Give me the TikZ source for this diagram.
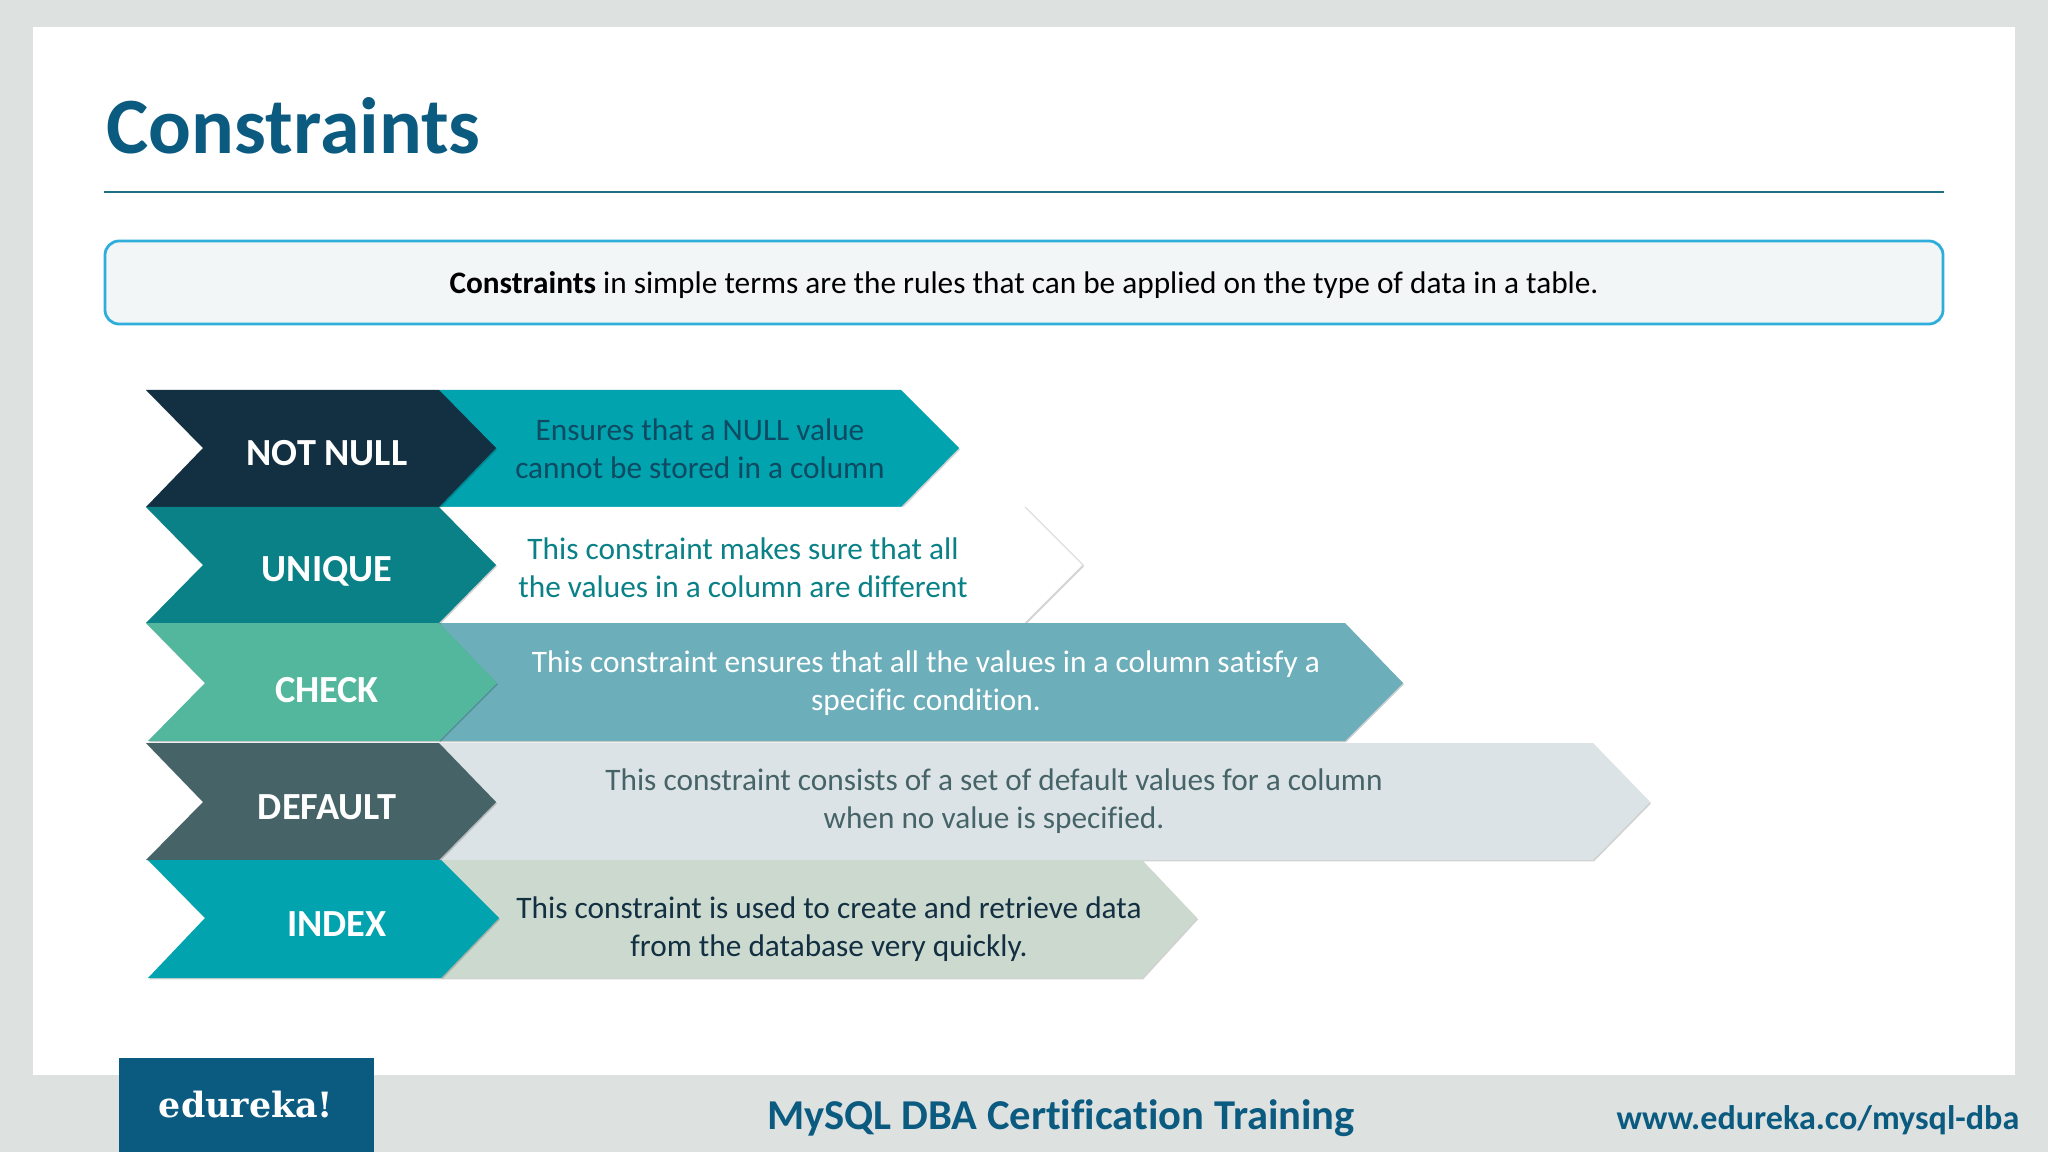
\documentclass[tikz,border=0pt]{standalone}
\usepackage{fontspec}
\setmainfont[Ligatures=NoCommon]{Carlito}
\newfontfamily\logofont{DejaVu Serif}
\usepackage{xcolor}
\usetikzlibrary{positioning,shadows}
\definecolor{pagegrey}{HTML}{DDE2E1}
\definecolor{titleblue}{HTML}{0B5A80}
\definecolor{ruleteal}{HTML}{1F6F80}
\definecolor{boxblue}{HTML}{2FAEDB}
\definecolor{boxfill}{HTML}{F3F6F7}
\definecolor{navy}{HTML}{132F42}
\definecolor{deepteal}{HTML}{0A8187}
\definecolor{mintgreen}{HTML}{52B79C}
\definecolor{slategrey}{HTML}{466467}
\definecolor{brightteal}{HTML}{00A3AE}
\definecolor{dullteal}{HTML}{6DAEBB}
\definecolor{palegrey}{HTML}{DCE3E6}
\definecolor{palegreen}{HTML}{CCD9CE}
\definecolor{deeptext}{HTML}{0F4A63}
\tikzset{
  tag/.style={drop shadow={shadow xshift=0.3pt,shadow yshift=-0.4pt,opacity=0.18,fill=black}},
  tagtext/.style={text=white,font=\fontsize{10.9}{13}\selectfont\bfseries,inner sep=0pt},
  desc/.style={align=center,inner sep=0pt,font=\fontsize{8.9}{10.8}\selectfont},
}
\begin{document}
\begin{tikzpicture}[x=0.01cm,y=-0.01cm]
  \useasboundingbox (0,0) rectangle (2048,1152);
  \fill[pagegrey] (0,0) rectangle (2048,1152);
  \fill[white] (33,27) rectangle (2015,1075);
  % header
  \node[anchor=base west,inner sep=0pt,text=titleblue,font=\fontsize{22.7}{26}\selectfont\bfseries] (title) at (106,154) {Constraints};
  \coordinate (ruleL) at (104,192);
  \coordinate (ruleR) at (1944,192);
  \draw[ruleteal,line width=0.5pt] (ruleL) -- (ruleR);
  \draw[boxblue,fill=boxfill,line width=0.8pt,rounded corners=4pt] (105,241) rectangle (1943,324);
  \node[desc,text=black] (intro) at (1024,285.5) {\textbf{Constraints} in simple terms are the rules that can be applied on the type of data in a table.};
  % right arrows
  \fill[tag,fill=brightteal] (439,390) -- (901,390) -- (959,448) -- (901,507) -- (439,507) -- cycle;
  \fill[tag,fill=white] (439,507) -- (1025,507) -- (1083,565) -- (1025,623) -- (439,623) -- cycle;
  \draw[black!15,line width=0.3pt] (1025,507) -- (1083,565) -- (1025,623);
  \fill[tag,fill=dullteal] (439,623) -- (1345,623) -- (1403,683) -- (1345,741) -- (439,741) -- cycle;
  \fill[tag,fill=palegrey] (439,743) -- (1593,743) -- (1650,802) -- (1593,860) -- (439,860) -- cycle;
  \fill[tag,fill=palegreen] (441,860) -- (1142,860) -- (1197,918) -- (1142,978) -- (441,978) -- cycle;
  % left chevrons
  \fill[tag,fill=navy] (146,390) -- (439,390) -- (496,448) -- (439,507) -- (146,507) -- (203,448) -- cycle;
  \fill[tag,fill=deepteal] (146,507) -- (439,507) -- (496,565) -- (439,623) -- (146,623) -- (203,565) -- cycle;
  \fill[tag,fill=mintgreen] (146,623) -- (439,623) -- (497,683) -- (439,741) -- (148,741) -- (205,683) -- cycle;
  \fill[tag,fill=slategrey] (146,743) -- (439,743) -- (496,802) -- (439,860) -- (146,860) -- (203,802) -- cycle;
  \fill[tag,fill=brightteal] (148,860) -- (441,860) -- (499,918) -- (441,978) -- (148,978) -- (205,918) -- cycle;
  % labels
  \node[tagtext] (notnull) at (327,453) {NOT NULL};
  \node[tagtext] (unique) at (327,571) {UNIQUE};
  \node[tagtext] (check) at (327,690) {CHECK};
  \node[tagtext] (default) at (327,807) {DEFAULT};
  \node[tagtext] (index) at (337,924) {INDEX};
  \node[desc,text=deeptext] (notnulltext) at (700,449) {Ensures that a NULL value\\cannot be stored in a column};
  \node[desc,text=deepteal] (uniquetext) at (743,568) {This constraint makes sure that all\\the values in a column are different};
  \node[desc,text=white] (checktext) at (926,683.5) {This constraint ensures that all the values in a column satisfy a\\specific condition.};
  \node[desc,text=slategrey] (defaulttext) at (994,801.5) {This constraint consists of a set of default values for a column\\when no value is specified.};
  \node[desc,text=navy] (indextext) at (829,929.5) {This constraint is used to create and retrieve data\\from the database very quickly.};
  % footer
  \fill[titleblue] (119,1058) rectangle (374,1152);
  \node[anchor=base,inner sep=0pt,text=white,font=\logofont\fontsize{9.9}{12}\selectfont\bfseries] (logo) at (246,1117) {edureka!};
  \node[anchor=base,inner sep=0pt,text=titleblue,font=\fontsize{12.1}{14}\selectfont\bfseries] (course) at (1061,1129) {MySQL DBA Certification Training};
  \node[anchor=base east,inner sep=0pt,text=titleblue,font=\fontsize{9.7}{12}\selectfont\bfseries] (site) at (2020,1129.5) {www.edureka.co/mysql-dba};
\end{tikzpicture}
\end{document}
